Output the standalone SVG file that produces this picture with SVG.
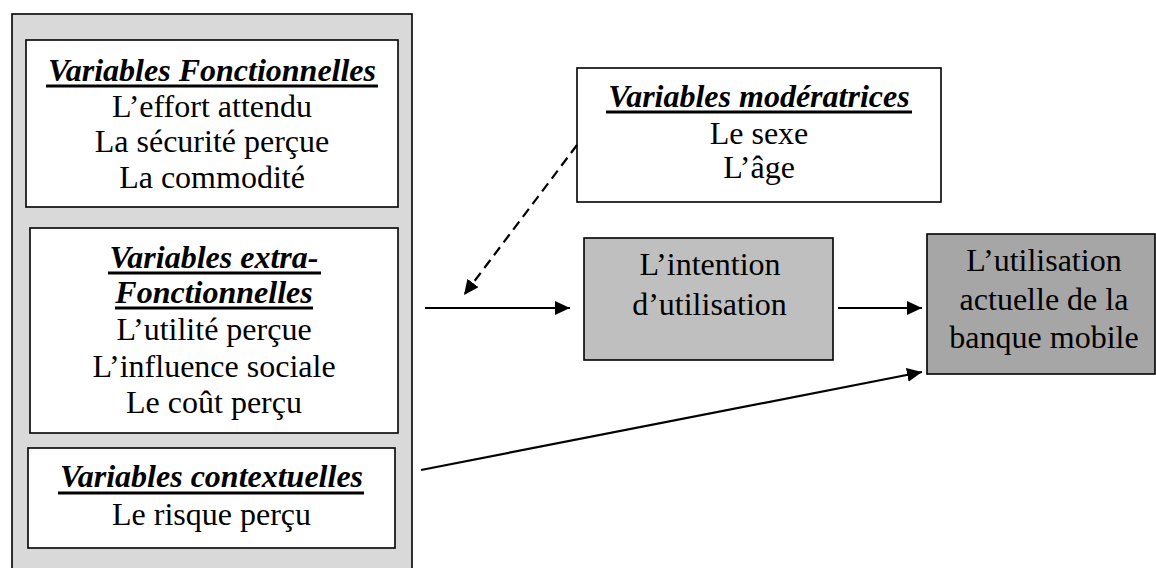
<svg xmlns="http://www.w3.org/2000/svg" width="1156" height="568" viewBox="0 0 1156 568">
<defs>
<style>
.box{stroke:#000;stroke-width:1.6}
.t{font-family:"Liberation Serif","Times New Roman",serif;font-size:32px;text-anchor:middle;fill:#000}
.h{font-weight:bold;font-style:italic}
.u{stroke:#000;stroke-width:3}
.c{stroke:#000;stroke-width:2.2;fill:none}
</style>
<marker id="ah" markerUnits="userSpaceOnUse" markerWidth="16" markerHeight="14" refX="15" refY="7" orient="auto">
<path d="M0,0 L15,7 L0,14 z" fill="#000"/>
</marker>
</defs>
<rect width="1156" height="568" fill="#fff"/>
<g id="outer">
<rect class="box" x="12" y="14" width="400" height="556" fill="#d9d9d9"/>
</g>
<g id="fonctionnelles">
<rect class="box" x="26" y="40" width="372" height="167" fill="#fff"/>
<text class="t h" x="212" y="81">Variables Fonctionnelles</text>
<line class="u" x1="46" y1="86" x2="378" y2="86"/>
<text class="t" x="212" y="117">L’effort attendu</text>
<text class="t" x="212" y="152">La sécurité perçue</text>
<text class="t" x="212" y="188">La commodité</text>
</g>
<g id="extra">
<rect class="box" x="30" y="228" width="368" height="205" fill="#fff"/>
<text class="t h" x="214" y="268">Variables extra-</text>
<line class="u" x1="108" y1="273" x2="321" y2="273"/>
<text class="t h" x="214" y="303">Fonctionnelles</text>
<line class="u" x1="115" y1="308" x2="313" y2="308"/>
<text class="t" x="214" y="340">L’utilité perçue</text>
<text class="t" x="214" y="377">L’influence sociale</text>
<text class="t" x="214" y="413">Le coût perçu</text>
</g>
<g id="contextuelles">
<rect class="box" x="28" y="448" width="367" height="100" fill="#fff"/>
<text class="t h" x="211.5" y="487">Variables contextuelles</text>
<line class="u" x1="58" y1="493" x2="364" y2="493"/>
<text class="t" x="211.5" y="525">Le risque perçu</text>
</g>
<g id="moderatrices">
<rect class="box" x="577" y="68" width="364" height="134" fill="#fff"/>
<text class="t h" x="759" y="107">Variables modératrices</text>
<line class="u" x1="606" y1="112" x2="912" y2="112"/>
<text class="t" x="759" y="144">Le sexe</text>
<text class="t" x="759" y="178">L’âge</text>
</g>
<g id="intention">
<rect class="box" x="584" y="238" width="249" height="122" fill="#bfbfbf"/>
<text class="t" x="710" y="275">L’intention</text>
<text class="t" x="709.5" y="315">d’utilisation</text>
</g>
<g id="utilisation">
<rect class="box" x="927" y="234" width="228" height="140" fill="#a6a6a6"/>
<text class="t" x="1044" y="271">L’utilisation</text>
<text class="t" x="1044" y="310">actuelle de la</text>
<text class="t" x="1044" y="348">banque mobile</text>
</g>
<g id="connectors">
<line class="c" x1="425" y1="308" x2="570" y2="308" marker-end="url(#ah)"/>
<line class="c" x1="838" y1="308" x2="922" y2="308" marker-end="url(#ah)"/>
<line class="c" x1="421" y1="470" x2="922" y2="372" marker-end="url(#ah)"/>
<line class="c" x1="577" y1="145" x2="464" y2="295" stroke-dasharray="10,6" marker-end="url(#ah)"/>
</g>
</svg>
